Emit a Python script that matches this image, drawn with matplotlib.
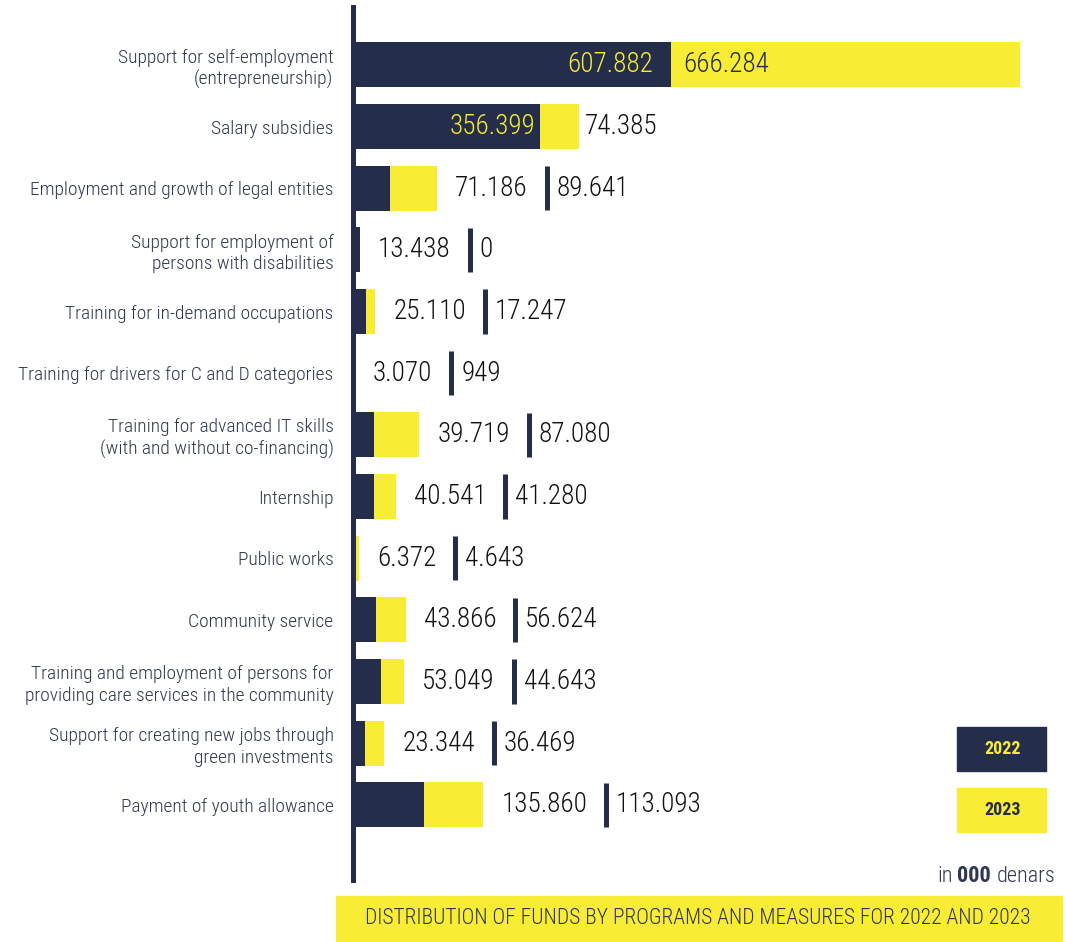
import matplotlib
matplotlib.use("Agg")
import matplotlib.pyplot as plt
import matplotlib.font_manager as fm
from matplotlib.patches import Rectangle

# data (in 000 denars)
programs = [
    "Support for self-employment\n(entrepreneurship)",
    "Salary subsidies",
    "Employment and growth of legal entities",
    "Support for employment of\npersons with disabilities",
    "Training for in-demand occupations",
    "Training for drivers for C and D categories",
    "Training for advanced IT skills\n(with and without co-financing)",
    "Internship",
    "Public works",
    "Community service",
    "Training and employment of persons for\nproviding care services in the community",
    "Support for creating new jobs through\ngreen investments",
    "Payment of youth allowance",
]
funds_2022 = [607882, 356399, 71186, 13438, 25110, 3070, 39719, 40541, 6372, 43866, 53049, 23344, 135860]
funds_2023 = [666284, 74385, 89641, 0, 17247, 949, 87080, 41280, 4643, 56624, 44643, 36469, 113093]
years = ["2022", "2023"]

NAVY = "#242e4a"
YELLOW = "#f9ec35"
TXT = "#2f3652"

names = {f.name for f in fm.fontManager.ttflist}
font = "DejaVu Sans"
for cand in ["Roboto Condensed", "Liberation Sans Narrow", "Open Sans Condensed"]:
    if cand in names:
        font = cand
        break
plt.rcParams["font.family"] = [font, "DejaVu Sans"]
if font == "DejaVu Sans":
    plt.rcParams["font.stretch"] = "condensed"


def fmt(v):
    return f"{v:,}".replace(",", ".")


W, H = 1066, 942
fig = plt.figure(figsize=(W / 100, H / 100), dpi=100)
ax = fig.add_axes([353 / W, 1 - 880 / H, 1 - 353 / W, (880 - 7) / H])

y = list(range(len(programs)))
ax.barh(y, funds_2022, height=0.73, color=NAVY)
ax.barh(y, funds_2023, left=funds_2022, height=0.73, color=YELLOW)

ax.set_xlim(0, 1362000)
ax.set_ylim(13.22, -0.94)
for s in ["top", "right", "bottom"]:
    ax.spines[s].set_visible(False)
ax.spines["left"].set_linewidth(3.6)
ax.spines["left"].set_color(NAVY)
ax.set_xticks([])
ax.set_yticks(y)
ax.set_yticklabels(programs, fontsize=14, color=TXT, linespacing=1.25, fontweight="light")
ax.tick_params(axis="y", length=0, pad=14)

NUM = 19.5
LW = "light"
fig.canvas.draw()
inv = ax.transData.inverted()
for i, (a, b) in enumerate(zip(funds_2022, funds_2023)):
    if i == 0:
        ax.annotate(fmt(a), xy=(a, i), xytext=(-18, 0), textcoords="offset pixels",
                    ha="right", va="center", fontsize=NUM, color=YELLOW, fontweight=LW)
        ax.annotate(fmt(b), xy=(a, i), xytext=(12, 0), textcoords="offset pixels",
                    ha="left", va="center", fontsize=NUM, color=NAVY, fontweight=LW)
        continue
    if i == 1:
        ax.annotate(fmt(a), xy=(a, i), xytext=(-4, 0), textcoords="offset pixels",
                    ha="right", va="center", fontsize=NUM, color=YELLOW, fontweight=LW)
        ax.annotate(fmt(b), xy=(a + b, i), xytext=(6, 0), textcoords="offset pixels",
                    ha="left", va="center", fontsize=NUM, color="#111111", fontweight=LW)
        continue
    t1 = ax.annotate(fmt(a), xy=(a + b, i), xytext=(18, 0), textcoords="offset pixels",
                     ha="left", va="center", fontsize=NUM, color="#111111", fontweight=LW)
    fig.canvas.draw()
    bb = t1.get_window_extent()
    xsep = inv.transform((bb.x1 + 19, 0))[0]
    ax.vlines(xsep, i - 0.36, i + 0.36, color=NAVY, lw=3.6)
    ax.annotate(fmt(b), xy=(xsep, i), xytext=(10, 0), textcoords="offset pixels",
                ha="left", va="center", fontsize=NUM, color="#111111", fontweight=LW)

# legend boxes
for k, (yr, fc, tc) in enumerate(zip(years, [NAVY, YELLOW], [YELLOW, NAVY])):
    top = 727 + k * 61
    fig.add_artist(Rectangle((957 / W, 1 - (top + 44) / H), 89 / W, 44 / H,
                             transform=fig.transFigure, color=fc))
    fig.text(1003 / W, 1 - (top + 22) / H, yr, ha="center", va="center",
             fontsize=13, fontweight="bold", color=tc)

# units note: "in 000 denars"
t_den = fig.text(1055 / W, 1 - 882 / H, "denars", ha="right", va="baseline",
                 fontsize=16, color=TXT, fontweight=LW)
t_000 = fig.text(0, 0, "000", ha="right", va="bottom", fontsize=16,
                 fontweight="bold", color=TXT)
fig.canvas.draw()
bb = t_den.get_window_extent()
t_000.set_transform(None)
t_000.set_position((bb.x0 - 5, bb.y0))
fig.canvas.draw()
bb = t_000.get_window_extent()
fig.text(bb.x0 - 5, bb.y0, "in", ha="right", va="bottom", fontsize=16,
         color=TXT, fontweight=LW, transform=None)

# footer title
fig.add_artist(Rectangle((336 / W, 1 / H), 726 / W, 45 / H,
                         transform=fig.transFigure, color=YELLOW))
fig.text(698 / W, 1 - 918 / H, "DISTRIBUTION OF FUNDS BY PROGRAMS AND MEASURES FOR 2022 AND 2023",
         ha="center", va="center", fontsize=15.5, color=TXT, fontweight=LW)

fig.savefig("out.png", dpi=100)
